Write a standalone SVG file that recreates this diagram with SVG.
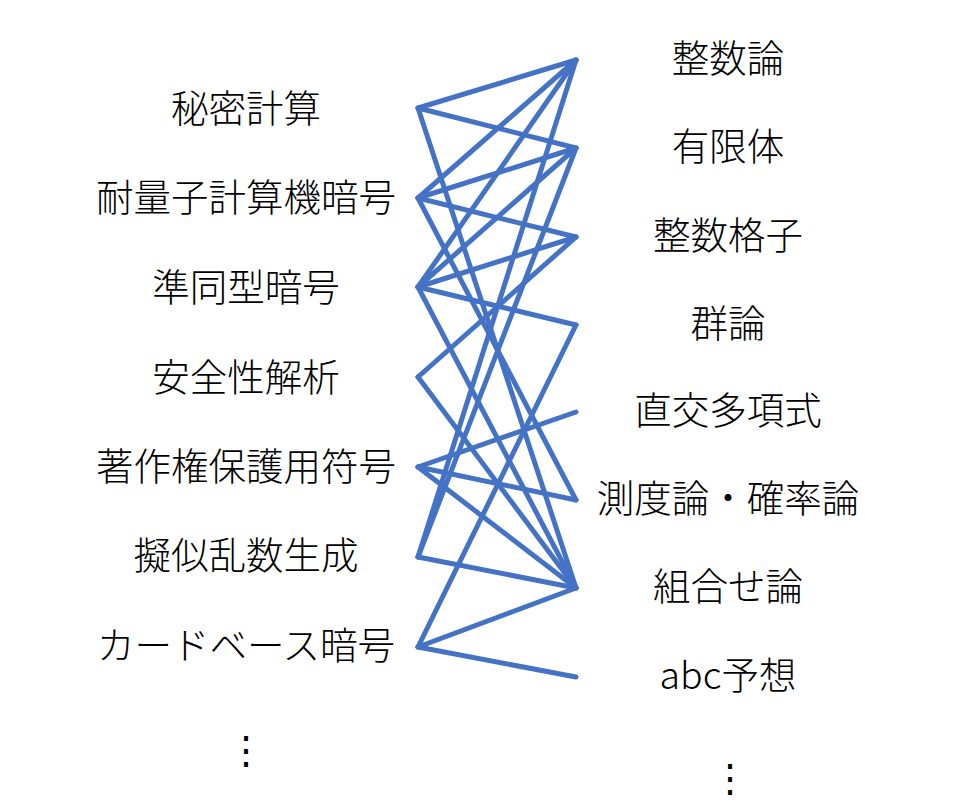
<svg xmlns="http://www.w3.org/2000/svg" width="956" height="804" viewBox="0 0 956 804">
<style>
.lbl{font-family:"Noto Sans CJK JP","Noto Sans",sans-serif;font-size:37.5px;font-weight:300;fill:#000;text-anchor:middle}
.e line{stroke:#4472C4;stroke-width:5;stroke-linecap:round}
</style>
<rect width="956" height="804" fill="#fff"/>
<g id="edges" class="e">
<line x1="418" y1="108" x2="576" y2="60"/>
<line x1="418" y1="108" x2="576" y2="148"/>
<line x1="418" y1="108" x2="576" y2="588"/>
<line x1="418" y1="198" x2="576" y2="60"/>
<line x1="418" y1="198" x2="576" y2="148"/>
<line x1="418" y1="198" x2="576" y2="237"/>
<line x1="418" y1="198" x2="576" y2="500"/>
<line x1="418" y1="287" x2="576" y2="60"/>
<line x1="418" y1="287" x2="576" y2="148"/>
<line x1="418" y1="287" x2="576" y2="237"/>
<line x1="418" y1="287" x2="576" y2="325"/>
<line x1="418" y1="287" x2="576" y2="588"/>
<line x1="418" y1="377" x2="576" y2="237"/>
<line x1="418" y1="377" x2="576" y2="588"/>
<line x1="418" y1="467" x2="576" y2="412"/>
<line x1="418" y1="467" x2="576" y2="500"/>
<line x1="418" y1="467" x2="576" y2="588"/>
<line x1="418" y1="557" x2="576" y2="60"/>
<line x1="418" y1="557" x2="576" y2="148"/>
<line x1="418" y1="557" x2="576" y2="588"/>
<line x1="418" y1="647" x2="576" y2="325"/>
<line x1="418" y1="647" x2="576" y2="588"/>
<line x1="418" y1="647" x2="576" y2="677"/>
</g>
<g id="L1"><text class="lbl" x="246" y="122">秘密計算</text></g>
<g id="L2"><text class="lbl" x="246" y="211">耐量子計算機暗号</text></g>
<g id="L3"><text class="lbl" x="246" y="301">準同型暗号</text></g>
<g id="L4"><text class="lbl" x="246" y="391">安全性解析</text></g>
<g id="L5"><text class="lbl" x="246" y="480">著作権保護用符号</text></g>
<g id="L6"><text class="lbl" x="246" y="569">擬似乱数生成</text></g>
<g id="L7"><text class="lbl" x="246" y="659">カードベース暗号</text></g>
<g id="Lmore"><text class="lbl" x="246" y="764">⋮</text></g>
<g id="R1"><text class="lbl" x="728" y="72">整数論</text></g>
<g id="R2"><text class="lbl" x="728" y="160">有限体</text></g>
<g id="R3"><text class="lbl" x="728" y="249">整数格子</text></g>
<g id="R4"><text class="lbl" x="728" y="337">群論</text></g>
<g id="R5"><text class="lbl" x="728" y="424">直交多項式</text></g>
<g id="R6"><text class="lbl" x="728" y="512">測度論・確率論</text></g>
<g id="R7"><text class="lbl" x="728" y="600">組合せ論</text></g>
<g id="R8"><text class="lbl" x="728" y="689">abc予想</text></g>
<g id="Rmore"><text class="lbl" x="730" y="792">⋮</text></g>
</svg>
